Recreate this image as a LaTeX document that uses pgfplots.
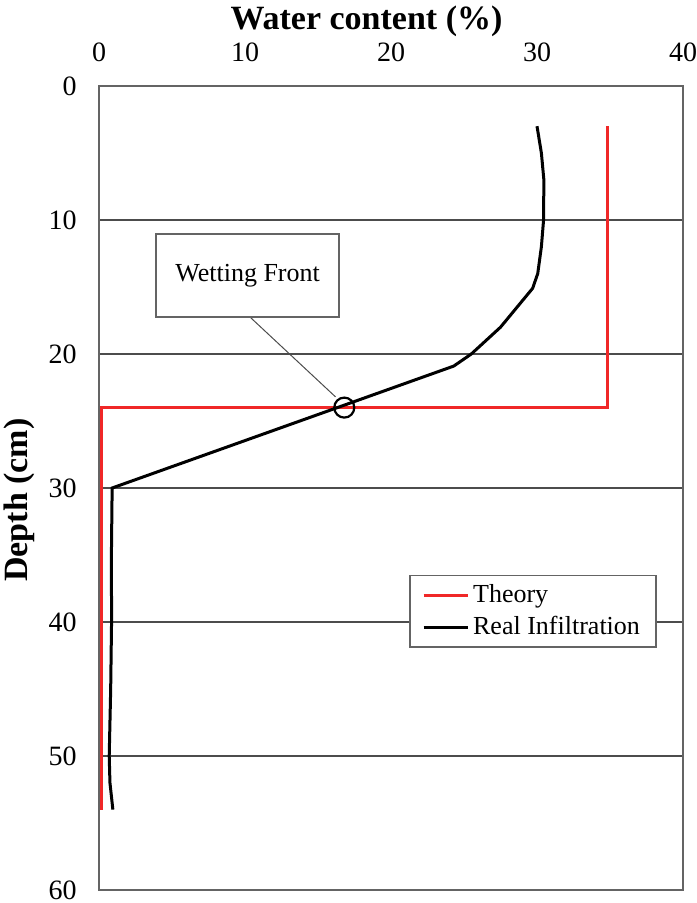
\documentclass[border=0pt]{standalone}
\usepackage{pgfplots}
\pgfplotsset{compat=1.18}
\usepackage{fontspec}
\setmainfont{Liberation Serif}
\definecolor{theoryred}{RGB}{240,40,40}
\definecolor{framegray}{RGB}{100,100,100}
\begin{document}
\begin{tikzpicture}
\begin{axis}[
  scale only axis,
  width=292pt, height=402pt,
  xmin=0, xmax=40, ymin=0, ymax=60,
  y dir=reverse,
  xtick={0,10,20,30,40},
  ytick={0,10,20,30,40,50,60},
  xticklabel pos=upper,
  major tick length=0pt,
  tick style={draw=none},
  ymajorgrids,
  grid style={draw=black!70, line width=0.8pt},
  axis line style={draw=framegray, line width=0.9pt},
  /pgf/number format/assume math mode=true,
  ticklabel style={font=\fontsize{14}{16}\selectfont, inner sep=0pt},
  xticklabel style={anchor=base, yshift=12pt},
  yticklabel style={anchor=east, xshift=-11pt},
  xlabel={\textbf{Water content (\%)}},
  xlabel style={at={(axis description cs:0.458,1)}, anchor=base, yshift=28pt, font=\fontsize{17}{19}\selectfont},
  ylabel={\textbf{Depth (cm)}},
  ylabel style={at={(axis description cs:0,0.485)}, anchor=center, yshift=40pt, font=\fontsize{17}{19}\selectfont},
  legend style={at={(axis description cs:0.955,0.392)}, anchor=north east,
    draw=framegray, line width=0.8pt, fill=white, font=\fontsize{13}{15}\selectfont,
    inner xsep=6pt, inner ysep=2.5pt, row sep=1.5pt, legend cell align=left},
  legend image code/.code={\draw[#1] (0pt,0pt) -- (22pt,0pt);},
]
\addplot[theoryred, line width=1.5pt] coordinates {
  (34.85,3) (34.85,24) (0.15,24) (0.15,54)
};
\addlegendentry{Theory}
\addplot[black, line width=1.5pt] coordinates {
  (30.0,3) (30.3,5) (30.47,7) (30.45,10) (30.3,12) (30.05,14) (29.7,15.1)
  (27.5,18) (25.5,20) (24.3,20.9) (0.9,30) (0.85,35) (0.86,40) (0.8,45)
  (0.7,50) (0.75,52) (0.95,54)
};
\addlegendentry{Real Infiltration}
\addplot[black, only marks, mark=o, mark size=5pt, mark options={line width=1.1pt}, forget plot] coordinates {(16.8,24)};
\draw[black!70, line width=0.5pt] (axis cs:10.3,17.2) -- (axis cs:16.2,23.2);
\node[draw=framegray, line width=0.8pt, fill=white, minimum width=91.5pt, minimum height=41.5pt,
  font=\fontsize{13}{15}\selectfont, inner sep=0pt] at (axis cs:10.18,14.16) {Wetting Front};
\coordinate (ll) at (rel axis cs:0,0);
\coordinate (ur) at (rel axis cs:1,1);
\end{axis}
\pgfresetboundingbox
\path ([xshift=-49.5pt,yshift=-6.5pt]ll) rectangle ([xshift=6.5pt,yshift=43pt]ur);
\end{tikzpicture}
\end{document}
